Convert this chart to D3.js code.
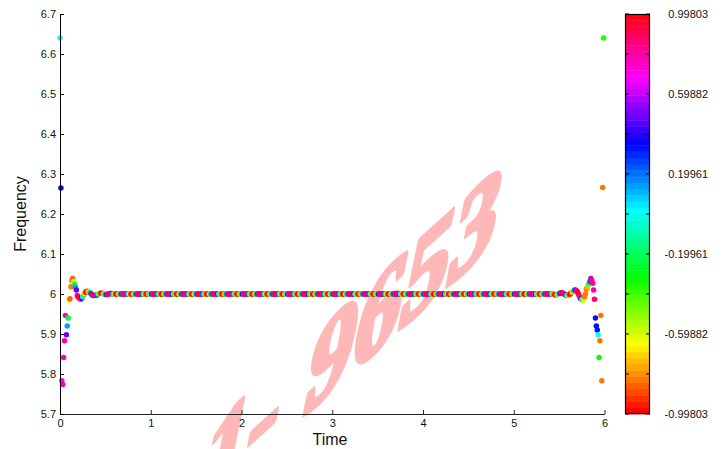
<!DOCTYPE html>
<html>
<head>
<meta charset="utf-8">
<script src="https://cdn.jsdelivr.net/npm/d3@7"></script>
<style>
html,body{margin:0;padding:0;background:#fff;}
svg{display:block;font-family:Arial,"Liberation Sans",sans-serif;}
</style>
</head>
<body>
<svg id="chart" width="725" height="449"></svg>
<script>
// ---------- DATA ----------
const time = [
0,.01,.02,.03,.04,.05,.06,.07,.08,.09,.1,.11,.12,.13,.14,.15,.16,.17,.18,.19,.2,.21,.22,.23,.24,.25,.26,.27,.28,.29,.3,.31,.32,.33,.34,.35,.36,.37,.38,.39,.4,.41,.42,.43,.44,.45,.46,.47,.48,.49,
.5,.51,.52,.53,.54,.55,.56,.57,.58,.59,.6,.61,.62,.63,.64,.65,.66,.67,.68,.69,.7,.71,.72,.73,.74,.75,.76,.77,.78,.79,.8,.81,.82,.83,.84,.85,.86,.87,.88,.89,.9,.91,.92,.93,.94,.95,.96,.97,.98,.99,
1,1.01,1.02,1.03,1.04,1.05,1.06,1.07,1.08,1.09,1.1,1.11,1.12,1.13,1.14,1.15,1.16,1.17,1.18,1.19,1.2,1.21,1.22,1.23,1.24,1.25,1.26,1.27,1.28,1.29,1.3,1.31,1.32,1.33,1.34,1.35,1.36,1.37,1.38,1.39,1.4,1.41,1.42,1.43,1.44,1.45,1.46,1.47,1.48,1.49,
1.5,1.51,1.52,1.53,1.54,1.55,1.56,1.57,1.58,1.59,1.6,1.61,1.62,1.63,1.64,1.65,1.66,1.67,1.68,1.69,1.7,1.71,1.72,1.73,1.74,1.75,1.76,1.77,1.78,1.79,1.8,1.81,1.82,1.83,1.84,1.85,1.86,1.87,1.88,1.89,1.9,1.91,1.92,1.93,1.94,1.95,1.96,1.97,1.98,1.99,
2,2.01,2.02,2.03,2.04,2.05,2.06,2.07,2.08,2.09,2.1,2.11,2.12,2.13,2.14,2.15,2.16,2.17,2.18,2.19,2.2,2.21,2.22,2.23,2.24,2.25,2.26,2.27,2.28,2.29,2.3,2.31,2.32,2.33,2.34,2.35,2.36,2.37,2.38,2.39,2.4,2.41,2.42,2.43,2.44,2.45,2.46,2.47,2.48,2.49,
2.5,2.51,2.52,2.53,2.54,2.55,2.56,2.57,2.58,2.59,2.6,2.61,2.62,2.63,2.64,2.65,2.66,2.67,2.68,2.69,2.7,2.71,2.72,2.73,2.74,2.75,2.76,2.77,2.78,2.79,2.8,2.81,2.82,2.83,2.84,2.85,2.86,2.87,2.88,2.89,2.9,2.91,2.92,2.93,2.94,2.95,2.96,2.97,2.98,2.99,
3,3.01,3.02,3.03,3.04,3.05,3.06,3.07,3.08,3.09,3.1,3.11,3.12,3.13,3.14,3.15,3.16,3.17,3.18,3.19,3.2,3.21,3.22,3.23,3.24,3.25,3.26,3.27,3.28,3.29,3.3,3.31,3.32,3.33,3.34,3.35,3.36,3.37,3.38,3.39,3.4,3.41,3.42,3.43,3.44,3.45,3.46,3.47,3.48,3.49,
3.5,3.51,3.52,3.53,3.54,3.55,3.56,3.57,3.58,3.59,3.6,3.61,3.62,3.63,3.64,3.65,3.66,3.67,3.68,3.69,3.7,3.71,3.72,3.73,3.74,3.75,3.76,3.77,3.78,3.79,3.8,3.81,3.82,3.83,3.84,3.85,3.86,3.87,3.88,3.89,3.9,3.91,3.92,3.93,3.94,3.95,3.96,3.97,3.98,3.99,
4,4.01,4.02,4.03,4.04,4.05,4.06,4.07,4.08,4.09,4.1,4.11,4.12,4.13,4.14,4.15,4.16,4.17,4.18,4.19,4.2,4.21,4.22,4.23,4.24,4.25,4.26,4.27,4.28,4.29,4.3,4.31,4.32,4.33,4.34,4.35,4.36,4.37,4.38,4.39,4.4,4.41,4.42,4.43,4.44,4.45,4.46,4.47,4.48,4.49,
4.5,4.51,4.52,4.53,4.54,4.55,4.56,4.57,4.58,4.59,4.6,4.61,4.62,4.63,4.64,4.65,4.66,4.67,4.68,4.69,4.7,4.71,4.72,4.73,4.74,4.75,4.76,4.77,4.78,4.79,4.8,4.81,4.82,4.83,4.84,4.85,4.86,4.87,4.88,4.89,4.9,4.91,4.92,4.93,4.94,4.95,4.96,4.97,4.98,4.99,
5,5.01,5.02,5.03,5.04,5.05,5.06,5.07,5.08,5.09,5.1,5.11,5.12,5.13,5.14,5.15,5.16,5.17,5.18,5.19,5.2,5.21,5.22,5.23,5.24,5.25,5.26,5.27,5.28,5.29,5.3,5.31,5.32,5.33,5.34,5.35,5.36,5.37,5.38,5.39,5.4,5.41,5.42,5.43,5.44,5.45,5.46,5.47,5.48,5.49,
5.5,5.51,5.52,5.53,5.54,5.55,5.56,5.57,5.58,5.59,5.6,5.61,5.62,5.63,5.64,5.65,5.66,5.67,5.68,5.69,5.7,5.71,5.72,5.73,5.74,5.75,5.76,5.77,5.78,5.79,5.8,5.81,5.82,5.83,5.84,5.85,5.86,5.87,5.88,5.89,5.9,5.91,5.92,5.93,5.94,5.95,5.96,5.97,5.98,5.99
];

const frequency = [
6.640,6.265,5.783,5.774,5.841,5.883,5.946,5.898,5.920,5.940, 5.985,5.988,6.018,6.034,6.039,6.031,6.024,6.017,6.010,5.996, 5.993,5.990,5.988,5.987,5.990,5.993,5.997,6.001,6.004,6.006, 6.007,6.006,6.005,6.003,6.001,5.999,5.997,5.996,5.996,5.996, 5.997,5.998,6.000,6.001,6.002,6.002,6.002,6.001,6.000,5.999,
5.999,5.999,5.999,6,6,6.001,6.001,6.001,6,6, 6,6,6,6,6,6,6,6,6,6, 6,6,6,6,6,6,6,6,6,6, 6,6,6,6,6,6,6,6,6,6, 6,6,6,6,6,6,6,6,6,6,
6,6,6,6,6,6,6,6,6,6, 6,6,6,6,6,6,6,6,6,6, 6,6,6,6,6,6,6,6,6,6, 6,6,6,6,6,6,6,6,6,6, 6,6,6,6,6,6,6,6,6,6,
6,6,6,6,6,6,6,6,6,6, 6,6,6,6,6,6,6,6,6,6, 6,6,6,6,6,6,6,6,6,6, 6,6,6,6,6,6,6,6,6,6, 6,6,6,6,6,6,6,6,6,6,
6,6,6,6,6,6,6,6,6,6, 6,6,6,6,6,6,6,6,6,6, 6,6,6,6,6,6,6,6,6,6, 6,6,6,6,6,6,6,6,6,6, 6,6,6,6,6,6,6,6,6,6,
6,6,6,6,6,6,6,6,6,6, 6,6,6,6,6,6,6,6,6,6, 6,6,6,6,6,6,6,6,6,6, 6,6,6,6,6,6,6,6,6,6, 6,6,6,6,6,6,6,6,6,6,
6,6,6,6,6,6,6,6,6,6, 6,6,6,6,6,6,6,6,6,6, 6,6,6,6,6,6,6,6,6,6, 6,6,6,6,6,6,6,6,6,6, 6,6,6,6,6,6,6,6,6,6,
6,6,6,6,6,6,6,6,6,6, 6,6,6,6,6,6,6,6,6,6, 6,6,6,6,6,6,6,6,6,6, 6,6,6,6,6,6,6,6,6,6, 6,6,6,6,6,6,6,6,6,6,
6,6,6,6,6,6,6,6,6,6, 6,6,6,6,6,6,6,6,6,6, 6,6,6,6,6,6,6,6,6,6, 6,6,6,6,6,6,6,6,6,6, 6,6,6,6,6,6,6,6,6,6,
6,6,6,6,6,6,6,6,6,6, 6,6,6,6,6,6,6,6,6,6, 6,6,6,6,6,6,6,6,6,6, 6,6,6,6,6,6,6,6,6,6, 6,6,6,6,6,6,6,6,6,6,
6,6,6,6,6,6,6,6,6,6, 6,6,6,6,6,6,6,6,6,6, 6,6,6,6,6,6,6,6,6,6, 6,6,6,6,6,6,6,6,6,6, 6,6.001,6.001,6.001,6,5.999,5.998,5.998,5.999,6,
6.001,6.002,6.003,6.003,6.002,6.001,5.999,5.998,5.997,5.996, 5.997,5.998,6.000,6.002,6.003,6.005,6.008,6.010,6.010,6.008, 6.006,6.001,5.996,5.992,5.988,5.987,5.985,5.985,5.993,6.000, 6.012,6.016,6.022,6.027,6.031,6.039,6.034,6.027,6.010,5.987, 5.940,5.920,5.910,5.898,5.841,5.883,5.946,5.783,6.266,6.640
];

const amplitude = [
0,.368,.685,.8,.8,.8,.771,.482,.125,-.249,-.588,-.844,-.82,-.82,-.844,-.588,-.249,.125,.482,.771,.951,.998,.905,.685,.368,0,-.368,-.685,-.905,-.998,-.951,-.771,-.482,-.125,.249,.588,.844,.982,.982,.844,.588,.249,-.125,-.482,-.771,-.951,-.998,-.905,-.685,-.368,
0,.368,.685,.905,.998,.951,.771,.482,.125,-.249,-.588,-.844,-.982,-.982,-.844,-.588,-.249,.125,.482,.771,.951,.998,.905,.685,.368,0,-.368,-.685,-.905,-.998,-.951,-.771,-.482,-.125,.249,.588,.844,.982,.982,.844,.588,.249,-.125,-.482,-.771,-.951,-.998,-.905,-.685,-.368,
0,.368,.685,.905,.998,.951,.771,.482,.125,-.249,-.588,-.844,-.982,-.982,-.844,-.588,-.249,.125,.482,.771,.951,.998,.905,.685,.368,0,-.368,-.685,-.905,-.998,-.951,-.771,-.482,-.125,.249,.588,.844,.982,.982,.844,.588,.249,-.125,-.482,-.771,-.951,-.998,-.905,-.685,-.368,
0,.368,.685,.905,.998,.951,.771,.482,.125,-.249,-.588,-.844,-.982,-.982,-.844,-.588,-.249,.125,.482,.771,.951,.998,.905,.685,.368,0,-.368,-.685,-.905,-.998,-.951,-.771,-.482,-.125,.249,.588,.844,.982,.982,.844,.588,.249,-.125,-.482,-.771,-.951,-.998,-.905,-.685,-.368,
0,.368,.685,.905,.998,.951,.771,.482,.125,-.249,-.588,-.844,-.982,-.982,-.844,-.588,-.249,.125,.482,.771,.951,.998,.905,.685,.368,0,-.368,-.685,-.905,-.998,-.951,-.771,-.482,-.125,.249,.588,.844,.982,.982,.844,.588,.249,-.125,-.482,-.771,-.951,-.998,-.905,-.685,-.368,
0,.368,.685,.905,.998,.951,.771,.482,.125,-.249,-.588,-.844,-.982,-.982,-.844,-.588,-.249,.125,.482,.771,.951,.998,.905,.685,.368,0,-.368,-.685,-.905,-.998,-.951,-.771,-.482,-.125,.249,.588,.844,.982,.982,.844,.588,.249,-.125,-.482,-.771,-.951,-.998,-.905,-.685,-.368,
0,.368,.685,.905,.998,.951,.771,.482,.125,-.249,-.588,-.844,-.982,-.982,-.844,-.588,-.249,.125,.482,.771,.951,.998,.905,.685,.368,0,-.368,-.685,-.905,-.998,-.951,-.771,-.482,-.125,.249,.588,.844,.982,.982,.844,.588,.249,-.125,-.482,-.771,-.951,-.998,-.905,-.685,-.368,
0,.368,.685,.905,.998,.951,.771,.482,.125,-.249,-.588,-.844,-.982,-.982,-.844,-.588,-.249,.125,.482,.771,.951,.998,.905,.685,.368,0,-.368,-.685,-.905,-.998,-.951,-.771,-.482,-.125,.249,.588,.844,.982,.982,.844,.588,.249,-.125,-.482,-.771,-.951,-.998,-.905,-.685,-.368,
0,.368,.685,.905,.998,.951,.771,.482,.125,-.249,-.588,-.844,-.982,-.982,-.844,-.588,-.249,.125,.482,.771,.951,.998,.905,.685,.368,0,-.368,-.685,-.905,-.998,-.951,-.771,-.482,-.125,.249,.588,.844,.982,.982,.844,.588,.249,-.125,-.482,-.771,-.951,-.998,-.905,-.685,-.368,
0,.368,.685,.905,.998,.951,.771,.482,.125,-.249,-.588,-.844,-.982,-.982,-.844,-.588,-.249,.125,.482,.771,.951,.998,.905,.685,.368,0,-.368,-.685,-.905,-.998,-.951,-.771,-.482,-.125,.249,.588,.844,.982,.982,.844,.588,.249,-.125,-.482,-.771,-.951,-.998,-.905,-.685,-.368,
0,.368,.685,.905,.998,.951,.771,.482,.125,-.249,-.588,-.844,-.982,-.982,-.844,-.588,-.249,.125,.482,.771,.951,.998,.905,.685,.368,0,-.368,-.685,-.905,-.998,-.951,-.771,-.482,-.125,.249,.588,.844,.982,.982,.844,.588,.249,-.125,-.482,-.771,-.951,-.998,-.905,-.685,-.368,
0,.368,.685,.905,.998,.951,.771,.482,.125,-.249,-.588,-.844,-.982,-.982,-.844,-.588,-.249,.125,.482,.771,.951,.998,.905,.685,.368,0,-.368,-.685,-.82,-.82,-.82,-.771,-.482,-.125,.249,.588,.844,.8,.8,.844,.33,.33,.33,0,-.33,-.82,-.82,-.82,-.82,-.368
];

const xTicks = [0, 1, 2, 3, 4, 5, 6];
const xTickLabels = ["0", "1", "2", "3", "4", "5", "6"];
const yTicks = [5.7, 5.8, 5.9, 6.0, 6.1, 6.2, 6.3, 6.4, 6.5, 6.6, 6.7];
const yTickLabels = ["5.7", "5.8", "5.9", "6", "6.1", "6.2", "6.3", "6.4", "6.5", "6.6", "6.7"];
const colorLimits = [-0.99803, 0.99803];
const cbTicks = [0.99803, 0.59882, 0.19961, -0.19961, -0.59882, -0.99803];
const cbTickLabels = ["0.99803", "0.59882", "0.19961", "-0.19961", "-0.59882", "-0.99803"];
const cbMinorTicks = [0.99803, 0.79842, 0.59882, 0.39921, 0.19961, 0, -0.19961, -0.39921, -0.59882, -0.79842, -0.99803];
const xLabel = "Time";
const yLabel = "Frequency";
const watermarkParts = ["1-", "9653"];

// ---------- LAYOUT ----------
const svg = d3.select("#chart");
const plot = {left: 60, right: 604.5, top: 14, bottom: 414};
const cb = {left: 625, right: 650, top: 14, bottom: 414};
const nColors = 64;

const x = d3.scaleLinear().domain([0, 6]).range([plot.left, plot.right]);
const y = d3.scaleLinear().domain([5.7, 6.7]).range([plot.bottom, plot.top]);
const cbY = d3.scaleLinear().domain(colorLimits).range([cb.bottom, cb.top]);

function hsvColor(h) { return d3.hsl(h * 360, 1, 0.5).formatHex(); }
const palette = d3.range(nColors).map(i => hsvColor(i / nColors));
const colorIndex = d3.scaleQuantize().domain(colorLimits).range(d3.range(nColors));
function colorOf(v) {
  if (v >= colorLimits[1]) return palette[nColors - 1];
  if (v <= colorLimits[0]) return palette[0];
  return palette[colorIndex(v)];
}

// watermark (behind everything): slanted bold serif digits
const wm = svg.append("text")
  .attr("transform", "matrix(0.921,-0.830,-0.26,1.28,500,203)")
  .attr("text-anchor", "end")
  .attr("dy", "0.33em")
  .attr("font-family", "'Liberation Serif','Times New Roman',serif")
  .attr("font-weight", "bold")
  .attr("font-size", 104)
  .attr("fill", "#ffb8b8")
  .attr("stroke", "#ffb8b8")
  .attr("stroke-width", 5)
  .attr("stroke-linejoin", "round");
wm.append("tspan").text(watermarkParts[0]);
wm.append("tspan").attr("dx", "0.28em").text(watermarkParts[1]);

// light blur to mimic blending of densely overlapping markers
const defs = svg.append("defs");
defs.append("filter").attr("id", "soft").attr("x", "-5%").attr("y", "-20%").attr("width", "110%").attr("height", "140%")
  .append("feGaussianBlur").attr("stdDeviation", "0.6 0.1");

// points
const points = d3.range(time.length).map(i => ({t: time[i], f: frequency[i], a: amplitude[i]}));
svg.append("g").attr("filter", "url(#soft)")
  .selectAll("circle").data(points).join("circle")
  .attr("cx", d => x(d.t))
  .attr("cy", d => y(d.f))
  .attr("r", 2.75)
  .attr("fill", d => colorOf(d.a));

// axes
const axisFont = g => g.selectAll("text").attr("font-size", 11).attr("fill", "#111")
  .attr("font-family", "Arial,'Liberation Sans',sans-serif");

svg.append("g").attr("transform", `translate(0,${plot.bottom})`)
  .call(d3.axisBottom(x).tickValues(xTicks).tickFormat((d, i) => xTickLabels[i]).tickSize(-4).tickSizeOuter(0).tickPadding(5))
  .call(axisFont)
  .call(g => g.select(".domain").attr("stroke", "#222"))
  .call(g => g.selectAll(".tick line").attr("stroke", "#222"));

svg.append("g").attr("transform", `translate(${plot.left},0)`)
  .call(d3.axisLeft(y).tickValues(yTicks).tickFormat((d, i) => yTickLabels[i]).tickSize(-4).tickSizeOuter(0).tickPadding(4))
  .call(axisFont)
  .call(g => g.select(".domain").attr("stroke", "#000"))
  .call(g => g.selectAll(".tick line").attr("stroke", "#000"));

// axis labels
svg.append("text").attr("x", 330).attr("y", 445).attr("text-anchor", "middle")
  .attr("font-size", 16).attr("fill", "#111").text(xLabel);
svg.append("text").attr("transform", "translate(26,214) rotate(-90)").attr("text-anchor", "middle")
  .attr("font-size", 16).attr("fill", "#111").text(yLabel);

// colorbar
const step = (colorLimits[1] - colorLimits[0]) / nColors;
const cbg = svg.append("g");
cbg.selectAll("rect.band").data(d3.range(nColors)).join("rect")
  .attr("class", "band")
  .attr("x", cb.left)
  .attr("width", cb.right - cb.left)
  .attr("y", i => cbY(colorLimits[0] + (i + 1) * step))
  .attr("height", i => cbY(colorLimits[0] + i * step) - cbY(colorLimits[0] + (i + 1) * step) + 0.4)
  .attr("fill", i => palette[i]);
cbg.append("rect").attr("x", cb.left + 0.5).attr("y", cb.top + 0.5)
  .attr("width", cb.right - cb.left - 1).attr("height", cb.bottom - cb.top - 1)
  .attr("fill", "none").attr("stroke", "#000").attr("stroke-width", 1.2);
cbg.selectAll("line.tl").data(cbMinorTicks).join("line").attr("class", "tl")
  .attr("x1", cb.left).attr("x2", cb.left + 4)
  .attr("y1", d => cbY(d)).attr("y2", d => cbY(d)).attr("stroke", "#000");
cbg.selectAll("line.tr").data(cbMinorTicks).join("line").attr("class", "tr")
  .attr("x1", cb.right - 4).attr("x2", cb.right)
  .attr("y1", d => cbY(d)).attr("y2", d => cbY(d)).attr("stroke", "#000");
cbg.selectAll("text").data(cbTicks).join("text")
  .attr("x", 708).attr("y", d => cbY(d)).attr("dy", "0.35em")
  .attr("text-anchor", "end").attr("font-size", 11).attr("fill", "#111")
  .text((d, i) => cbTickLabels[i]);
</script>
</body>
</html>
